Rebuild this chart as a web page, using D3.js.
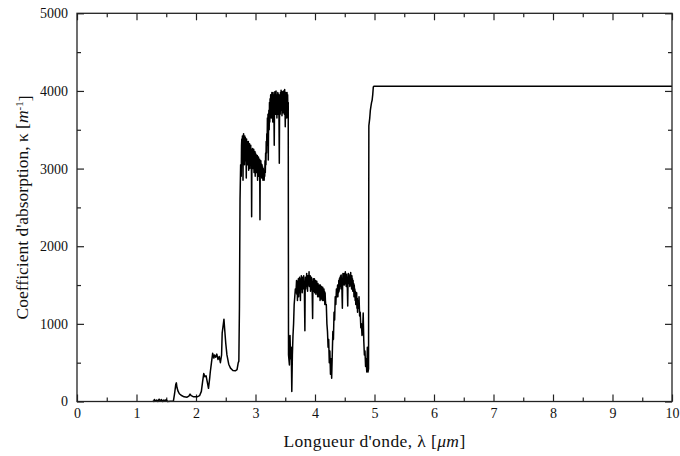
<!DOCTYPE html>
<html>
<head>
<meta charset="utf-8">
<script src="https://cdn.jsdelivr.net/npm/d3@7"></script>
<style>
  body { margin: 0; background: #fff; }
  svg { display: block; }
  .tick text { font-family: "Liberation Serif", serif; font-size: 14px; fill: #111; }
  .tick line { stroke: #222; stroke-width: 1.2; }
</style>
</head>
<body>
<div id="chart"></div>
<script>
// spectrum, [lambda (um), kappa (1/m)]
var nearIR = [
  [1.28, 15], [1.29, 0], [1.30, 25], [1.32, 5], [1.34, 20], [1.36, 0], [1.38, 30],
  [1.40, 5], [1.42, 25], [1.44, 0], [1.46, 20], [1.48, 5], [1.50, 25], [1.52, 0],
  [1.62, 5], [1.64, 100], [1.66, 220], [1.67, 240], [1.68, 180], [1.70, 130],
  [1.72, 100], [1.75, 80], [1.80, 60], [1.85, 55], [1.88, 70], [1.90, 95],
  [1.92, 75], [1.96, 60], [2.02, 60], [2.06, 75], [2.09, 130], [2.11, 250],
  [2.13, 360], [2.15, 320], [2.17, 330], [2.19, 250], [2.21, 170], [2.23, 300],
  [2.24, 380], [2.26, 500], [2.28, 620], [2.30, 560], [2.31, 600], [2.33, 570],
  [2.35, 610], [2.37, 540], [2.39, 580], [2.41, 500], [2.43, 600], [2.44, 880],
  [2.46, 1000], [2.47, 1060], [2.48, 950], [2.50, 750], [2.52, 600], [2.55, 480],
  [2.58, 430], [2.62, 400], [2.66, 395], [2.69, 410], [2.71, 500]
];

var band3um = [
  [2.72, 520], [2.73, 1200], [2.74, 2600], [2.75, 3050], [2.76, 2900], [2.765, 3300],
  [2.770, 3380], [2.775, 3100], [2.780, 3420], [2.785, 3250], [2.790, 2850], [2.795, 3400],
  [2.800, 3450], [2.805, 3150], [2.810, 3380], [2.815, 3050], [2.820, 3420], [2.825, 3200],
  [2.830, 3400], [2.835, 3100], [2.840, 3350], [2.845, 2880], [2.850, 3380], [2.855, 3150],
  [2.860, 3350], [2.865, 3050], [2.870, 3330], [2.875, 3180], [2.880, 3350], [2.885, 2980],
  [2.890, 3300], [2.895, 3100], [2.900, 3320], [2.905, 3000], [2.910, 3280], [2.915, 3150],
  [2.920, 3300], [2.925, 3050], [2.930, 3250], [2.935, 2380], [2.940, 3200], [2.945, 3050],
  [2.950, 3260], [2.955, 3000], [2.960, 3230], [2.965, 3100], [2.970, 3250], [2.975, 2950],
  [2.980, 3200], [2.985, 3050], [2.990, 3220], [2.995, 2900], [3.000, 3200], [3.005, 3050],
  [3.010, 3180], [3.015, 2950], [3.020, 3150], [3.025, 3000], [3.030, 3170], [3.035, 2850],
  [3.040, 3120], [3.045, 3000], [3.050, 3150], [3.055, 2900], [3.060, 3100], [3.065, 2980],
  [3.070, 3120], [3.075, 2340], [3.080, 3050], [3.085, 2950], [3.090, 3100], [3.095, 2900],
  [3.100, 3060], [3.105, 2880], [3.110, 3050], [3.115, 2950], [3.120, 3020], [3.125, 2850],
  [3.130, 3000], [3.135, 2900], [3.140, 2980], [3.145, 2850], [3.150, 2950], [3.155, 2900],
  [3.160, 3100], [3.165, 2950], [3.170, 3200], [3.175, 3050], [3.180, 3350], [3.185, 3200],
  [3.190, 3450], [3.195, 3300], [3.200, 3650], [3.205, 3400], [3.210, 3700], [3.215, 3110],
  [3.220, 3600], [3.225, 3750], [3.230, 3500], [3.235, 3850], [3.240, 3600], [3.245, 3900],
  [3.250, 3650], [3.255, 3950], [3.260, 3700], [3.265, 3920], [3.270, 3650], [3.275, 3980],
  [3.280, 3750], [3.285, 3900], [3.290, 3600], [3.295, 3980], [3.300, 3800], [3.305, 3950],
  [3.310, 3700], [3.315, 3300], [3.320, 3850], [3.325, 3990], [3.330, 3750], [3.335, 3950],
  [3.340, 3700], [3.345, 4000], [3.350, 3800], [3.355, 3950], [3.360, 3650], [3.365, 3920],
  [3.370, 3780], [3.375, 3980], [3.380, 3700], [3.385, 3960], [3.390, 3800], [3.395, 3650],
  [3.400, 3070], [3.405, 3800], [3.410, 3950], [3.415, 3700], [3.420, 3980], [3.425, 3750],
  [3.430, 4010], [3.435, 3800], [3.440, 3950], [3.445, 3680], [3.450, 3990], [3.455, 3800],
  [3.460, 3950], [3.465, 3720], [3.470, 4000], [3.475, 3850], [3.480, 3980], [3.485, 3700],
  [3.490, 4020], [3.495, 3850], [3.500, 3540], [3.505, 3800], [3.510, 3980], [3.515, 3750],
  [3.520, 3950], [3.525, 3650], [3.530, 3980], [3.535, 3800], [3.540, 3950], [3.545, 3700],
  [3.550, 3850]
];

var band4um = [
  [3.555, 600], [3.57, 470], [3.58, 850], [3.59, 550], [3.60, 700], [3.61, 130],
  [3.62, 600], [3.63, 850], [3.64, 1000], [3.65, 1250], [3.66, 1350], [3.67, 1450],
  [3.68, 1400], [3.690, 1560], [3.695, 1380], [3.700, 1500], [3.705, 1300], [3.710, 1550],
  [3.715, 1420], [3.720, 1580], [3.725, 1350], [3.730, 1560], [3.735, 1450], [3.740, 1600],
  [3.745, 1400], [3.750, 1550], [3.755, 1300], [3.760, 1580], [3.765, 1450], [3.770, 1620],
  [3.775, 1480], [3.780, 1570], [3.785, 1400], [3.790, 1600], [3.795, 1450], [3.800, 1580],
  [3.805, 1500], [3.810, 1620], [3.815, 1450], [3.820, 1550], [3.825, 1200], [3.830, 910],
  [3.835, 1500], [3.840, 1600], [3.845, 1450], [3.850, 1580], [3.855, 1480], [3.860, 1650],
  [3.865, 1500], [3.870, 1600], [3.875, 1420], [3.880, 1620], [3.885, 1500], [3.890, 1580],
  [3.895, 1550], [3.900, 1670], [3.905, 1480], [3.910, 1600], [3.915, 1500], [3.920, 1620],
  [3.925, 1420], [3.930, 1560], [3.935, 1480], [3.940, 1600], [3.945, 1450], [3.950, 1550],
  [3.955, 1300], [3.960, 1070], [3.965, 1450], [3.970, 1580], [3.975, 1420], [3.980, 1550],
  [3.985, 1450], [3.990, 1580], [3.995, 1400], [4.000, 1540], [4.005, 1450], [4.010, 1560],
  [4.015, 1380], [4.020, 1520], [4.025, 1450], [4.030, 1550], [4.035, 1400], [4.040, 1500],
  [4.045, 1350], [4.050, 1520], [4.055, 1420], [4.060, 1480], [4.065, 1350], [4.070, 1500],
  [4.075, 1400], [4.080, 1460], [4.085, 1300], [4.090, 1500], [4.095, 1380], [4.100, 1450],
  [4.105, 1320], [4.110, 1480], [4.115, 1400], [4.120, 1450], [4.125, 1300], [4.130, 1470],
  [4.135, 1350], [4.140, 1420], [4.145, 1300], [4.150, 1450], [4.155, 1350], [4.160, 1420],
  [4.165, 1250], [4.170, 1400], [4.175, 1300], [4.180, 1250], [4.19, 1250], [4.20, 1000],
  [4.21, 900], [4.22, 700], [4.23, 800], [4.24, 500], [4.25, 650], [4.26, 350],
  [4.27, 550], [4.28, 300], [4.29, 600], [4.30, 900], [4.31, 800], [4.32, 1150],
  [4.33, 1050], [4.34, 1350], [4.35, 1250], [4.36, 1450], [4.37, 1350], [4.380, 1500],
  [4.385, 1350], [4.390, 1480], [4.395, 1400], [4.400, 1560], [4.405, 1420], [4.410, 1580],
  [4.415, 1450], [4.420, 1600], [4.425, 1480], [4.430, 1620], [4.435, 1500], [4.440, 1630],
  [4.445, 1450], [4.450, 1580], [4.455, 1350], [4.460, 1200], [4.465, 1550], [4.470, 1650],
  [4.475, 1500], [4.480, 1620], [4.485, 1520], [4.490, 1650], [4.495, 1500], [4.500, 1600],
  [4.505, 1550], [4.510, 1670], [4.515, 1520], [4.520, 1620], [4.525, 1480], [4.530, 1640],
  [4.535, 1550], [4.540, 1600], [4.545, 1400], [4.550, 1230], [4.555, 1550], [4.560, 1650],
  [4.565, 1520], [4.570, 1640], [4.575, 1550], [4.580, 1620], [4.585, 1480], [4.590, 1600],
  [4.595, 1520], [4.600, 1660], [4.605, 1500], [4.610, 1600], [4.615, 1450], [4.620, 1620],
  [4.625, 1500], [4.630, 1580], [4.635, 1420], [4.640, 1560], [4.645, 1450], [4.650, 1520],
  [4.655, 1350], [4.660, 1500], [4.665, 1400], [4.670, 1450], [4.675, 1300], [4.680, 1420],
  [4.685, 1250], [4.690, 1380], [4.695, 1300], [4.700, 1400], [4.705, 1200], [4.710, 1330],
  [4.715, 1150], [4.720, 1300], [4.73, 1200], [4.74, 1350], [4.75, 1100], [4.76, 1150],
  [4.77, 950], [4.78, 1000], [4.79, 850], [4.80, 900], [4.81, 1140], [4.82, 780],
  [4.83, 600], [4.84, 650], [4.85, 450], [4.86, 550], [4.87, 380], [4.88, 700],
  [4.89, 380], [4.90, 420]
];

var plateau = [
  [4.905, 3550], [4.92, 3650], [4.93, 3750], [4.94, 3800], [4.95, 3850], [4.96, 3880],
  [4.97, 3950], [4.98, 4050], [4.99, 4060], [5.00, 4060], [10.0, 4060]
];

var xTicks = [0, 1, 2, 3, 4, 5, 6, 7, 8, 9, 10];
var xMinor = [0.5, 1.5, 2.5, 3.5, 4.5, 5.5, 6.5, 7.5, 8.5, 9.5];
var yTicks = [0, 1000, 2000, 3000, 4000, 5000];
var yMinor = [500, 1500, 2500, 3500, 4500];

var spectrum = nearIR.concat(band3um, band4um, plateau);

var W = 680, H = 456;
var margin = {top: 13.3, right: 8, bottom: 54.5, left: 77};
var w = W - margin.left - margin.right,
    h = H - margin.top - margin.bottom;

var svg = d3.select("#chart").append("svg")
  .attr("width", W)
  .attr("height", H);

var g = svg.append("g")
  .attr("transform", "translate(" + margin.left + "," + margin.top + ")");

var x = d3.scaleLinear().domain([0, 10]).range([0, w]);
var y = d3.scaleLinear().domain([0, 5000]).range([h, 0]);

// major + minor ticks, all pointing inwards
function addAxis(axis, tr, labels) {
  var a = g.append("g").attr("transform", tr).call(axis);
  a.select(".domain").remove();
  if (!labels) a.selectAll("text").remove();
  return a;
}

addAxis(d3.axisBottom(x).tickValues(xTicks).tickSize(-7).tickPadding(7).tickFormat(d3.format("d")), "translate(0," + h + ")", true);
addAxis(d3.axisBottom(x).tickValues(xMinor).tickSize(-4), "translate(0," + h + ")", false);
addAxis(d3.axisTop(x).tickValues(xTicks).tickSize(-7), "translate(0,0)", false);
addAxis(d3.axisTop(x).tickValues(xMinor).tickSize(-4), "translate(0,0)", false);
addAxis(d3.axisLeft(y).tickValues(yTicks).tickSize(-7).tickPadding(9).tickFormat(d3.format("d")), "translate(0,0)", true);
addAxis(d3.axisLeft(y).tickValues(yMinor).tickSize(-4), "translate(0,0)", false);
addAxis(d3.axisRight(y).tickValues(yTicks).tickSize(-7), "translate(" + w + ",0)", false);
addAxis(d3.axisRight(y).tickValues(yMinor).tickSize(-4), "translate(" + w + ",0)", false);

var line = d3.line()
  .x(function(d) { return x(d[0]); })
  .y(function(d) { return y(d[1]); });

g.append("path")
  .datum(spectrum)
  .attr("fill", "none")
  .attr("stroke", "#000")
  .attr("stroke-width", 1.5)
  .attr("stroke-linejoin", "round")
  .attr("d", line);

// frame
g.append("rect")
  .attr("width", w)
  .attr("height", h)
  .attr("fill", "none")
  .attr("stroke", "#222")
  .attr("stroke-width", 1.3);

// axis titles
var xt = svg.append("text")
  .attr("x", margin.left + w / 2)
  .attr("y", 447)
  .attr("text-anchor", "middle")
  .style("font-family", "Liberation Serif, serif")
  .style("font-size", "17.5px")
  .style("letter-spacing", "0.4px")
  .style("fill", "#111");
xt.append("tspan").text("Longueur d'onde, λ [");
xt.append("tspan").style("font-style", "italic").text("μm");
xt.append("tspan").text("]");

var yt = svg.append("text")
  .attr("transform", "translate(28," + (margin.top + h / 2) + ") rotate(-90)")
  .attr("text-anchor", "middle")
  .style("font-family", "Liberation Serif, serif")
  .style("font-size", "17.5px")
  .style("fill", "#111");
yt.append("tspan").text("Coefficient d'absorption, κ [");
yt.append("tspan").style("font-style", "italic").text("m");
yt.append("tspan").attr("dy", "-0.45em").style("font-size", "11px").text("-1");
yt.append("tspan").attr("dy", "0.45em").text("]");
</script>
</body>
</html>
